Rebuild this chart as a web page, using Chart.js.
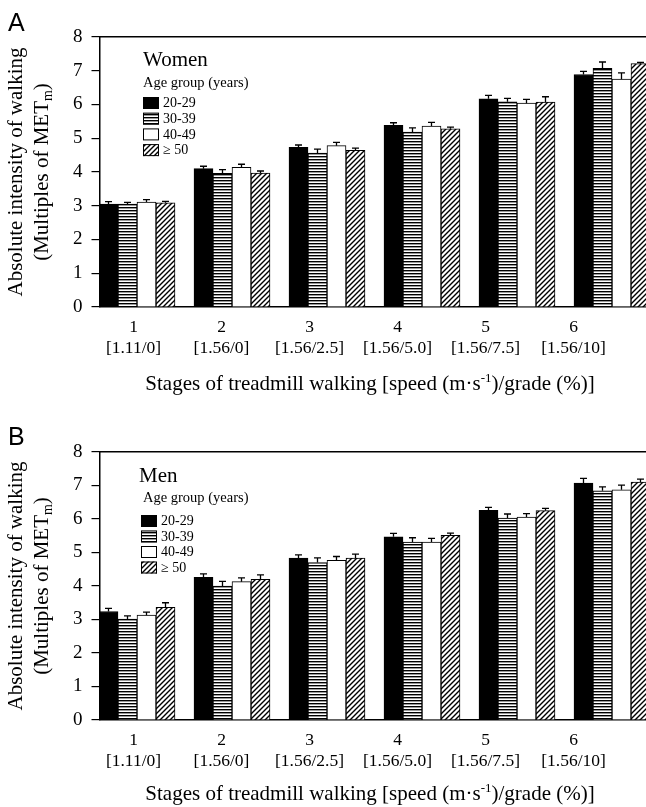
<!DOCTYPE html>
<html><head><meta charset="utf-8">
<script src="https://cdn.jsdelivr.net/npm/chart.js@4.4.0/dist/chart.umd.min.js"></script>
<style>
html,body{margin:0;padding:0;background:#fff;overflow:hidden;width:646px;height:807px;}
.wrap{position:absolute;left:0;}
canvas{display:block;}
</style></head><body>
<div class="wrap" style="top:0"><canvas id="cA" width="700" height="400"></canvas></div>
<div class="wrap" style="top:400px"><canvas id="cB" width="700" height="407"></canvas></div>
<script>
// ---------- data ----------
const stages = [1, 2, 3, 4, 5, 6];
const stageNumbers = ['1', '2', '3', '4', '5', '6'];
const stageConditions = ['[1.11/0]', '[1.56/0]', '[1.56/2.5]', '[1.56/5.0]', '[1.56/7.5]', '[1.56/10]'];
const ageGroups = ['20-29', '30-39', '40-49', '\u2265 50'];

const women20_29 = [3.05, 4.10, 4.73, 5.38, 6.17, 6.89];
const women30_39 = [3.05, 3.96, 4.56, 5.18, 6.08, 7.07];
const women40_49 = [3.11, 4.14, 4.78, 5.36, 6.04, 6.75];
const women50plus = [3.09, 3.97, 4.64, 5.28, 6.07, 7.21];
const women20_29Err = [0.07, 0.07, 0.07, 0.08, 0.10, 0.09];
const women30_39Err = [0.05, 0.11, 0.12, 0.13, 0.10, 0.19];
const women40_49Err = [0.07, 0.09, 0.10, 0.11, 0.11, 0.19];
const women50plusErr = [0.04, 0.06, 0.07, 0.05, 0.16, 0.04];

const men20_29 = [3.24, 4.26, 4.83, 5.47, 6.26, 7.07];
const men30_39 = [3.01, 4.00, 4.70, 5.31, 6.03, 6.84];
const men40_49 = [3.13, 4.13, 4.77, 5.31, 6.06, 6.87];
const men50plus = [3.36, 4.20, 4.83, 5.51, 6.25, 7.10];
const men20_29Err = [0.09, 0.10, 0.10, 0.10, 0.09, 0.14];
const men30_39Err = [0.10, 0.14, 0.14, 0.13, 0.12, 0.12];
const men40_49Err = [0.09, 0.11, 0.11, 0.11, 0.10, 0.14];
const men50plusErr = [0.14, 0.13, 0.12, 0.07, 0.07, 0.09];

// ---------- fills ----------
function stripePattern() {
  const c = document.createElement('canvas'); c.width = 4; c.height = 3;
  const g = c.getContext('2d');
  g.fillStyle = '#fff'; g.fillRect(0, 0, 4, 3);
  g.fillStyle = '#000'; g.fillRect(0, 0, 4, 1);
  g.fillStyle = '#9a9a9a'; g.fillRect(0, 1, 4, 1);
  return g.createPattern(c, 'repeat');
}
function hatchPattern() {
  const s = 5;
  const c = document.createElement('canvas'); c.width = s; c.height = s;
  const g = c.getContext('2d');
  g.fillStyle = '#fff'; g.fillRect(0, 0, s, s);
  g.strokeStyle = '#000'; g.lineWidth = 1.4;
  g.beginPath();
  g.moveTo(-1, s + 1); g.lineTo(s + 1, -1);
  g.moveTo(-1, 1); g.lineTo(1, -1);
  g.moveTo(s - 1, s + 1); g.lineTo(s + 1, s - 1);
  g.stroke();
  return g.createPattern(c, 'repeat');
}
const fills = ['#000000', stripePattern(), '#ffffff', hatchPattern()];
const SERIF = '"Liberation Serif", "Times New Roman", serif';

// ---------- plugins ----------
const errorBars = {
  id: 'errorBars',
  afterDatasetsDraw(chart) {
    const ctx = chart.ctx, y = chart.scales.y;
    ctx.save();
    ctx.strokeStyle = '#000'; ctx.lineWidth = 1.3;
    chart.data.datasets.forEach((ds, i) => {
      const meta = chart.getDatasetMeta(i);
      meta.data.forEach((bar, j) => {
        const v = ds.data[j].y, e = ds.errors[j];
        const y0 = y.getPixelForValue(v), y1 = y.getPixelForValue(v + e);
        ctx.beginPath();
        ctx.moveTo(bar.x, y0); ctx.lineTo(bar.x, y1);
        ctx.moveTo(bar.x - 3.5, y1); ctx.lineTo(bar.x + 3.5, y1);
        ctx.stroke();
      });
    });
    ctx.restore();
  }
};

const customLegend = {
  id: 'customLegend',
  afterDraw(chart, args, o) {
    const ctx = chart.ctx, a = chart.chartArea;
    ctx.save();
    ctx.fillStyle = '#000'; ctx.textAlign = 'left'; ctx.textBaseline = 'alphabetic';
    ctx.font = '21px ' + SERIF; ctx.fillText(o.title, o.titleX, a.top + o.titleDy);
    ctx.font = '14.5px ' + SERIF; ctx.fillText(o.subtitle, o.subX, a.top + o.subDy);
    chart.data.datasets.forEach((ds, i) => {
      const by = a.top + o.boxDy + i * o.step;
      ctx.fillStyle = ds.backgroundColor; ctx.fillRect(o.boxX, by, 16, 12);
      ctx.strokeStyle = '#000'; ctx.lineWidth = 1; ctx.strokeRect(o.boxX + 0.5, by + 0.5, 15, 11);
      ctx.fillStyle = '#000'; ctx.font = '14px ' + SERIF; ctx.textBaseline = 'middle';
      ctx.fillText(ds.label, o.boxX + 20, by + 6.5);
      ctx.textBaseline = 'alphabetic';
    });
    ctx.restore();
  }
};

const decor = {
  id: 'decor',
  afterDraw(chart, args, o) {
    const ctx = chart.ctx, a = chart.chartArea;
    ctx.save();
    ctx.fillStyle = '#000';
    ctx.font = '25px "Liberation Sans", Arial, sans-serif';
    ctx.textAlign = 'left'; ctx.textBaseline = 'alphabetic';
    ctx.fillText(o.panel, 8, o.panelY);
    const cy = (a.top + a.bottom) / 2;
    ctx.save();
    ctx.translate(0, cy); ctx.rotate(-Math.PI / 2);
    ctx.textAlign = 'left';
    ctx.font = '21px ' + SERIF;
    const l1 = 'Absolute intensity of walking';
    const w1 = ctx.measureText(l1).width;
    ctx.fillText(l1, -w1 / 2, 22);
    const p1 = '(Multiples of MET', p2 = 'm', p3 = ')';
    ctx.font = '21px ' + SERIF; const a1 = ctx.measureText(p1).width;
    ctx.font = '14px ' + SERIF; const a2 = ctx.measureText(p2).width;
    ctx.font = '21px ' + SERIF; const a3 = ctx.measureText(p3).width;
    let sx = -(a1 + a2 + a3) / 2;
    ctx.fillText(p1, sx, 48); sx += a1;
    ctx.font = '14px ' + SERIF; ctx.fillText(p2, sx, 52); sx += a2;
    ctx.font = '21px ' + SERIF; ctx.fillText(p3, sx, 48);
    ctx.restore();
    const q1 = 'Stages of treadmill walking [speed (m\u00b7s', q2 = '-1', q3 = ')/grade (%)]';
    ctx.font = '21px ' + SERIF; const b1 = ctx.measureText(q1).width;
    ctx.font = '13px ' + SERIF; const b2 = ctx.measureText(q2).width;
    ctx.font = '21px ' + SERIF; const b3 = ctx.measureText(q3).width;
    const by = a.bottom + o.xTitleDy;
    let tx = 370 - (b1 + b2 + b3) / 2;
    ctx.textAlign = 'left';
    ctx.fillText(q1, tx, by); tx += b1;
    ctx.font = '13px ' + SERIF; ctx.fillText(q2, tx, by - 8); tx += b2;
    ctx.font = '21px ' + SERIF; ctx.fillText(q3, tx, by);
    ctx.restore();
  }
};

// ---------- chart builder ----------
function makeChart(id, series, errors, topH, bottomH, legendOpts, panel, panelY, xTitleDy) {
  const datasets = series.map((vals, i) => ({
    label: ageGroups[i],
    data: stages.map((s, j) => ({ x: s, y: vals[j] })),
    errors: errors[i],
    backgroundColor: fills[i],
    borderColor: '#000',
    borderWidth: 1,
    barThickness: 19
  }));
  return new Chart(document.getElementById(id), {
    type: 'bar',
    data: { datasets },
    plugins: [errorBars, customLegend, decor],
    options: {
      responsive: false, animation: false, devicePixelRatio: 1,
      layout: { padding: 0 },
      plugins: {
        legend: { display: false }, tooltip: { enabled: false },
        customLegend: legendOpts,
        decor: { panel, panelY, xTitleDy }
      },
      scales: {
        x: {
          type: 'linear', position: 'bottom', weight: 0, min: 0.6053, max: 6.9264, offset: false,
          ticks: { display: false }, grid: { display: false, drawTicks: false, offset: false },
          border: { display: true, color: '#000', width: 1.5 },
          afterFit: s => { s.height = 0; }
        },
        xl: {
          type: 'linear', position: 'bottom', weight: 1, min: 0.6136, max: 7.4375, offset: false,
          afterBuildTicks: s => { s.ticks = stages.map(v => ({ value: v })); },
          ticks: {
            autoSkip: false, maxRotation: 0, padding: 9, color: '#000',
            font: { family: SERIF, size: 17.5, lineHeight: 1.25 },
            callback: (v, i) => [stageNumbers[i], stageConditions[i]]
          },
          grid: { display: false, drawTicks: false }, border: { display: false },
          afterFit: s => { s.height = bottomH; }
        },
        xt: {
          type: 'linear', position: 'top', min: 0, max: 1, offset: false,
          ticks: { display: false }, grid: { display: false, drawTicks: false },
          border: { display: true, color: '#000', width: 1.5 },
          afterFit: s => { s.height = topH; }
        },
        y: {
          min: 0, max: 8,
          ticks: { stepSize: 1, padding: 9, color: '#000', font: { family: SERIF, size: 19 } },
          grid: { display: true, drawOnChartArea: false, drawTicks: true, tickLength: 8, color: '#000', lineWidth: 1.2 },
          border: { display: true, color: '#000', width: 1.5 },
          afterFit: s => { s.width = 99.5; }
        }
      }
    }
  });
}

makeChart('cA', [women20_29, women30_39, women40_49, women50plus],
  [women20_29Err, women30_39Err, women40_49Err, women50plusErr],
  37, 93,
  { title: 'Women', subtitle: 'Age group (years)', titleX: 143, titleDy: 29, subX: 143, subDy: 50, boxX: 143, boxDy: 60, step: 15.7 },
  'A', 31, 83);

makeChart('cB', [men20_29, men30_39, men40_49, men50plus],
  [men20_29Err, men30_39Err, men40_49Err, men50plusErr],
  52, 87,
  { title: 'Men', subtitle: 'Age group (years)', titleX: 139, titleDy: 30, subX: 143, subDy: 50, boxX: 141, boxDy: 63, step: 15.5 },
  'B', 45, 80);
</script>
</body></html>
